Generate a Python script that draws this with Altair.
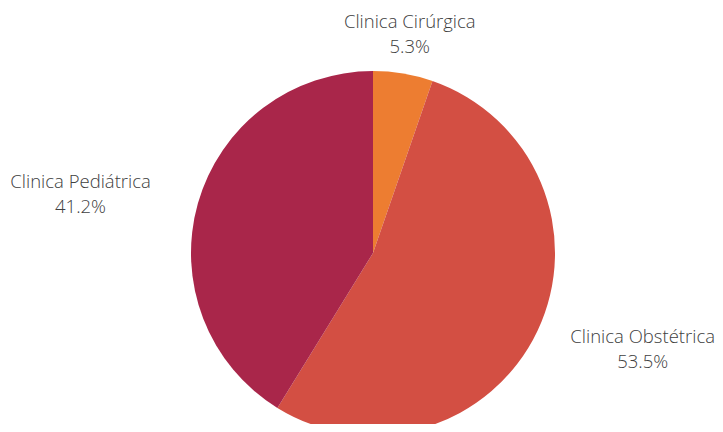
import altair as alt
import pandas as pd

categories = ["Clinica Cirúrgica", "Clinica Obstétrica", "Clinica Pediátrica"]
values = [5.3, 53.5, 41.2]
colors = ["#ED7D31", "#D34F43", "#A9264A"]

df = pd.DataFrame({
    "cat": categories,
    "value": values,
    "order": list(range(len(categories))),
    "label": [f"{c}\n{v:.1f}%" for c, v in zip(categories, values)],
})

base = alt.Chart(df).encode(
    theta=alt.Theta("value:Q", stack=True),
    order=alt.Order("order:Q"),
)

pie = base.mark_arc(radius=182, stroke=None).encode(
    color=alt.Color("cat:N", scale=alt.Scale(domain=categories, range=colors), legend=None)
)

# per-label placement (radius, dx, dy)
placement = {
    "Clinica Cirúrgica": (234, -2, 0),
    "Clinica Obstétrica": (304, -5, -46),
    "Clinica Pediátrica": (304, 0, 12),
}

layers = [pie]
for cat, (r, dx, dy) in placement.items():
    layers.append(
        base.transform_calculate(t=f"datum.cat == '{cat}' ? datum.label : ''")
        .mark_text(radius=r, dx=dx, dy=dy, align="center", baseline="middle", lineBreak="\n",
                   font="Open Sans", fontWeight=300, fontSize=18.5, color="#404040",
                   lineHeight=25)
        .encode(text="t:N")
    )

chart = alt.layer(*layers).properties(
    width=682, height=342,
    autosize=alt.AutoSizeParams(type="none"),
    padding={"left": 24, "top": 74, "right": 1, "bottom": 0},
).configure_view(stroke=None)

chart.save("out.html", embed_options={"renderer": "svg", "actions": False})
